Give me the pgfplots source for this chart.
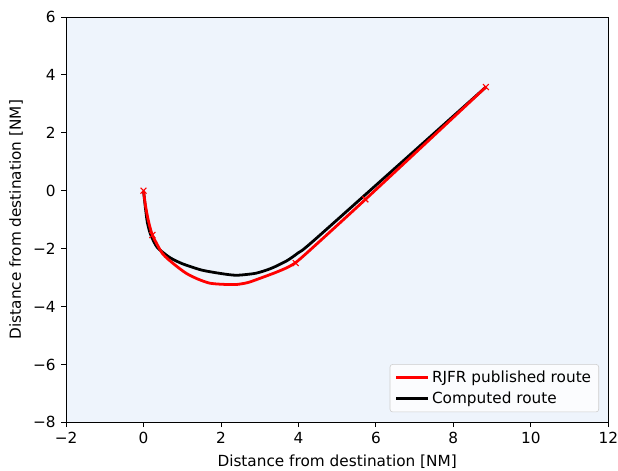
\documentclass[border=0pt]{standalone}
\usepackage{fontspec}
\setmainfont{DejaVu Sans}
\usepackage{pgfplots}
\pgfplotsset{compat=1.18}
\definecolor{bgblue}{RGB}{238,244,252}
\definecolor{legframe}{RGB}{204,204,204}
\begin{document}
\begin{tikzpicture}
\begin{axis}[
    name=ax,
    scale only axis,
    width=390pt, height=291.6pt,
    xmin=-2, xmax=12, ymin=-8, ymax=6,
    xtick={-2,0,2,4,6,8,10,12},
    xticklabels={−2,0,2,4,6,8,10,12},
    ytick={-8,-6,-4,-2,0,2,4,6},
    yticklabels={−8,−6,−4,−2,0,2,4,6},
    tick align=outside,
    major tick length=3.5pt,
    tick style={black, line width=0.6pt},
    xtick pos=bottom, ytick pos=left,
    axis background/.style={fill=bgblue},
    axis line style={line width=0.6pt},
    ticklabel style={font=\fontsize{11}{13}\selectfont},
    yticklabel style={xshift=-0.5pt},
    label style={font=\fontsize{11}{13}\selectfont},
    xlabel={Distance from destination [NM]},
    ylabel={Distance from destination [NM]},
    xlabel style={at={(axis description cs:0.5,-0.097)}, anchor=center},
    ylabel style={at={(axis description cs:-0.092,0.5)}, anchor=center},
    legend cell align=left,
    legend style={font=\fontsize{11}{13}\selectfont, draw=legframe, rounded corners=2pt,
        fill=white, fill opacity=0.8, text opacity=1, inner xsep=3.5pt, inner ysep=2.5pt,
        row sep=1.5pt,
        at={(0.983,0.025)}, anchor=south east},
    legend image code/.code={\draw[#1] (0cm,0cm) -- (0.8cm,0cm);},
]
\addlegendimage{red, line width=2pt}
\addlegendentry{RJFR published route}
\addlegendimage{black, line width=2pt}
\addlegendentry{Computed route}

% computed route
\addplot[black, line width=2pt, smooth, tension=0.4, forget plot] coordinates {
  (0,0) (0.05,-0.6) (0.1,-1.1) (0.18,-1.5) (0.35,-1.95) (0.67,-2.3) (1.0,-2.52)
  (1.5,-2.74) (2.0,-2.86) (2.4,-2.92) (2.9,-2.85) (3.3,-2.68) (3.7,-2.42) (4.0,-2.14)
  (4.5,-1.6) (8.84,3.58)
};
% published route
\addplot[red, line width=2pt, smooth, tension=0.4, forget plot] coordinates {
  (0,0) (0.05,-0.5) (0.12,-1.0) (0.23,-1.53) (0.49,-2.17) (0.8,-2.55) (1.1,-2.85)
  (1.4,-3.05) (1.7,-3.19) (2.0,-3.23) (2.39,-3.24) (2.7,-3.17) (3.06,-3.0)
  (3.4,-2.83) (3.7,-2.66) (3.93,-2.48) (4.3,-2.05) (5.73,-0.3) (8.84,3.58)
};
% waypoints
\addplot[only marks, red, mark=x, mark size=3pt, line width=0.8pt, forget plot] coordinates {
  (0,0) (0.23,-1.53) (3.93,-2.5) (5.73,-0.3) (8.84,3.58)
};
\end{axis}
\pgfresetboundingbox
\useasboundingbox ([xshift=-47.5pt,yshift=-34.6pt]ax.south west) rectangle ([xshift=7pt,yshift=12.2pt]ax.north east);
\end{tikzpicture}
\end{document}
